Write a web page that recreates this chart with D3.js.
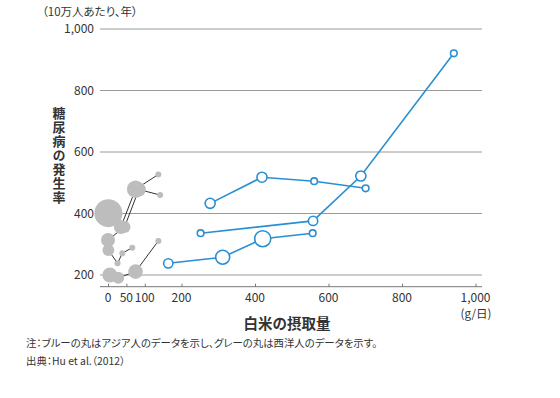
<!DOCTYPE html>
<html>
<head>
<meta charset="utf-8">
<script src="https://cdn.jsdelivr.net/npm/d3@7"></script>
<style>
  body { margin: 0; background: #fff; }
  svg text { font-family: "Noto Sans CJK JP", "Noto Sans", sans-serif; font-feature-settings: "palt"; fill: #333; }
</style>
</head>
<body>
<svg id="chart" width="560" height="398"></svg>
<script>
// intake of white rice (g/day) and diabetes incidence (per 100,000 person-years)
// weight = relative size of each circle
const asiaA = { x: [278, 419, 561, 701], y: [433, 518, 505, 482], w: [13, 13, 5.6, 5.6] };
const asiaB = { x: [252, 558, 688, 941], y: [336, 376, 522, 921], w: [5.6, 11, 13, 5.6] };
const asiaC = { x: [164, 312, 421, 557], y: [238, 258, 318, 336], w: [11, 25, 33, 5.6] };

const westA = { x: [1, 35, 75, 137], y: [401, 356, 479, 527], w: [100, 25, 38, 4.6] };
const westB = { x: [0, 45, 84, 142], y: [314, 356, 478, 460], w: [25, 18, 25, 4.6] };
const westC = { x: [1, 26, 39, 66], y: [281, 238, 271, 289], w: [18, 4.6, 4.6, 4.6] };
const westD = { x: [5, 28, 75, 137], y: [200, 191, 211, 311], w: [29, 18, 27, 4.6] };

const xTicks = [0, 50, 100, 200, 400, 600, 800, 1000];
const yTicks = [200, 400, 600, 800, 1000];

const asia = [asiaA, asiaB, asiaC];
const west = [westA, westB, westC, westD];

const svg = d3.select("#chart");
const blue = "#2a8fd2";

const x = d3.scaleLinear().domain([0, 1000]).range([108, 475.5]);
const y = d3.scaleLinear().domain([162, 1000]).range([286.7, 29]);
const r = d3.scaleSqrt().domain([0, 100]).range([0, 14]);

const toPts = s => s.x.map((v, i) => ({ x: v, y: s.y[i], w: s.w[i] }));

// gridlines
svg.append("g")
  .selectAll("line")
  .data(yTicks)
  .join("line")
  .attr("x1", 100).attr("x2", 482)
  .attr("y1", d => y(d)).attr("y2", d => y(d))
  .attr("stroke", "#9a9a9a").attr("stroke-width", 1);

// y labels
svg.append("g")
  .selectAll("text")
  .data(yTicks)
  .join("text")
  .attr("x", 94).attr("y", d => y(d))
  .attr("dy", "0.35em")
  .attr("text-anchor", "end")
  .attr("font-size", 12)
  .text(d => d3.format(",")(d));

// x axis
const xAxis = svg.append("g")
  .attr("transform", "translate(0," + y(162) + ")")
  .call(d3.axisTop(x).tickValues(xTicks).tickSize(3).tickFormat(""));
xAxis.select(".domain").attr("d", "M100,0H482").attr("stroke", "#777");
xAxis.selectAll(".tick line").attr("stroke", "#777");

svg.append("g")
  .selectAll("text")
  .data(xTicks)
  .join("text")
  .attr("x", d => x(d)).attr("y", 302)
  .attr("text-anchor", "middle")
  .attr("font-size", 12)
  .text(d => d3.format(",")(d));

svg.append("text")
  .attr("x", 476).attr("y", 318)
  .attr("text-anchor", "middle")
  .attr("font-size", 11.5)
  .text("(g/日)");

const line = d3.line().x(d => x(d.x)).y(d => y(d.y));

// western: dark lines under grey discs
svg.append("g")
  .selectAll("path")
  .data(west)
  .join("path")
  .attr("d", s => line(toPts(s)))
  .attr("fill", "none")
  .attr("stroke", "#333")
  .attr("stroke-width", 1);

svg.append("g")
  .selectAll("circle")
  .data(west.flatMap(toPts))
  .join("circle")
  .attr("cx", d => x(d.x)).attr("cy", d => y(d.y))
  .attr("r", d => r(d.w))
  .attr("fill", "#bdbdbd");

// asian: blue lines with hollow circles
svg.append("g")
  .selectAll("path")
  .data(asia)
  .join("path")
  .attr("d", s => line(toPts(s)))
  .attr("fill", "none")
  .attr("stroke", blue)
  .attr("stroke-width", 1.6);

svg.append("g")
  .selectAll("circle")
  .data(asia.flatMap(toPts))
  .join("circle")
  .attr("cx", d => x(d.x)).attr("cy", d => y(d.y))
  .attr("r", d => r(d.w))
  .attr("fill", "#fff")
  .attr("stroke", blue)
  .attr("stroke-width", 1.6);

// titles
svg.append("text")
  .attr("x", 42).attr("y", 16)
  .attr("font-size", 11.5)
  .text("（10万人あたり、年）");

svg.append("text")
  .attr("x", 59).attr("y", 107)
  .attr("font-size", 13)
  .attr("font-weight", "bold")
  .attr("fill", "#222")
  .style("writing-mode", "vertical-rl")
  .style("text-orientation", "upright")
  .style("letter-spacing", "1px")
  .text("糖尿病の発生率");

svg.append("text")
  .attr("x", 287).attr("y", 329)
  .attr("text-anchor", "middle")
  .attr("font-size", 14.5)
  .attr("font-weight", "bold")
  .attr("fill", "#222")
  .text("白米の摂取量");

svg.append("text")
  .attr("x", 26).attr("y", 347)
  .attr("font-size", 10.4)
  .text("注：ブルーの丸はアジア人のデータを示し、グレーの丸は西洋人のデータを示す。");

svg.append("text")
  .attr("x", 26).attr("y", 365)
  .attr("font-size", 10.4)
  .text("出典：Hu et al.（2012）");
</script>
</body>
</html>
